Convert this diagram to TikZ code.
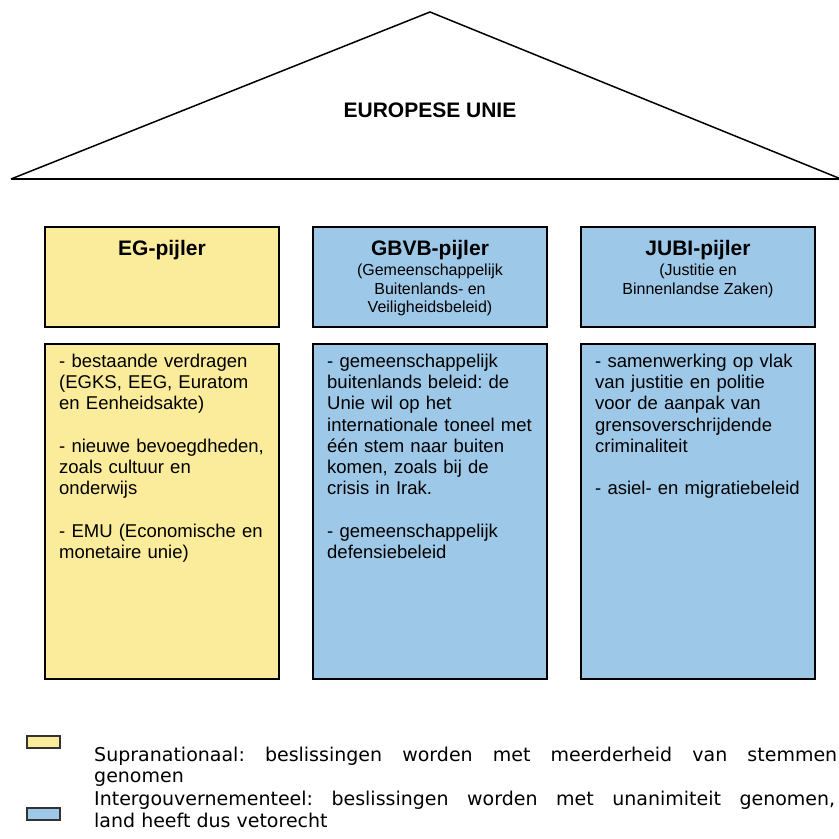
\documentclass[tikz,border=0pt]{standalone}
\usepackage{fontspec}
\setmainfont{Liberation Sans}
\newfontfamily\legendfont{DejaVu Sans}
\usepackage{xcolor}
\usetikzlibrary{positioning}
\definecolor{supra}{RGB}{251,236,155}
\definecolor{intergov}{RGB}{158,200,232}
\frenchspacing

\begin{document}
\begin{tikzpicture}[x=1pt,y=-1pt,
  pillar/.style={draw=black,line width=2pt,anchor=north west,minimum width=234pt,inner sep=0pt},
  headbox/.style={pillar,minimum height=100pt},
  bodybox/.style={pillar,minimum height=335pt},
  headtitle/.style={inner sep=0pt,font=\fontsize{21}{24}\selectfont\bfseries},
  headsub/.style={inner sep=0pt,align=center,font=\fontsize{16}{18.5}\selectfont},
  bodytext/.style={inner sep=0pt,text width=225pt,align=left,font=\fontsize{18.5}{21.3}\selectfont},
  legbox/.style={draw=black!80,line width=1.5pt,minimum width=33pt,minimum height=12pt,inner sep=0pt,anchor=north west},
  legtext/.style={inner sep=0pt,anchor=base west,font=\legendfont\fontsize{19}{22}\selectfont}]
\useasboundingbox (0,0) rectangle (839,839);
% roof
\coordinate (apex) at (430,12);
\coordinate (eaveL) at (11,179);
\coordinate (eaveR) at (841,179);
\draw[line width=1.5pt,line join=miter] (eaveL) -- (apex) -- (eaveR);
\draw[line width=2.5pt] (eaveL) -- (eaveR);
\node[inner sep=0pt,font=\fontsize{21}{24}\selectfont\bfseries] (eu) at (430,110) {EUROPESE UNIE};
% pillars
\node[headbox,fill=supra] (eghead) at (44,226) {};
\node[headbox,fill=intergov] (gbvbhead) at (312,226) {};
\node[headbox,fill=intergov] (jubihead) at (580,226) {};
\node[bodybox,fill=supra] (egbody) at (44,343) {};
\node[bodybox,fill=intergov] (gbvbbody) at (312,343) {};
\node[bodybox,fill=intergov] (jubibody) at (580,343) {};
% pillar titles
\node[headtitle,below=14pt of eghead.north] (egtitle) {EG-pijler};
\node[headtitle,below=14pt of gbvbhead.north] (gbvbtitle) {GBVB-pijler};
\node[headtitle,below=14pt of jubihead.north] (jubititle) {JUBI-pijler};
\node[headsub,below=4pt of gbvbtitle] (gbvbsub) {(Gemeenschappelijk\\Buitenlands- en\\Veiligheidsbeleid)};
\node[headsub,below=4pt of jubititle] (jubisub) {(Justitie en\\Binnenlandse Zaken)};
% pillar contents
\node[bodytext,below right=10.5pt and 15pt of egbody.north west] (egtext) {%
- bestaande verdragen\\(EGKS, EEG, Euratom\\en Eenheidsakte)\\[21.3pt]
- nieuwe bevoegdheden,\\zoals cultuur en\\onderwijs\\[21.3pt]
- EMU (Economische en\\monetaire unie)};
\node[bodytext,below right=10.5pt and 15pt of gbvbbody.north west] (gbvbtext) {%
- gemeenschappelijk\\buitenlands beleid: de\\Unie wil op het\\internationale toneel met\\één stem naar buiten\\komen, zoals bij de\\crisis in Irak.\\[21.3pt]
- gemeenschappelijk\\defensiebeleid};
\node[bodytext,below right=10.5pt and 15pt of jubibody.north west] (jubitext) {%
- samenwerking op vlak\\van justitie en politie\\voor de aanpak van\\grensoverschrijdende\\criminaliteit\\[21.3pt]
- asiel- en migratiebeleid};
% legend
\node[legbox,fill=supra] (legsupra) at (26,735) {};
\node[legbox,fill=intergov] (leginter) at (26,807) {};
\node[legtext] (supraline) at (94,761) {\makebox[743pt][s]{Supranationaal: beslissingen worden met meerderheid van stemmen}};
\node[legtext] (supranext) at (94,782) {genomen};
\node[legtext] (interline) at (94,805) {\makebox[741pt][s]{Intergouvernementeel: beslissingen worden met unanimiteit genomen,}};
\node[legtext] (internext) at (94,827) {land heeft dus vetorecht};
\end{tikzpicture}
\end{document}
